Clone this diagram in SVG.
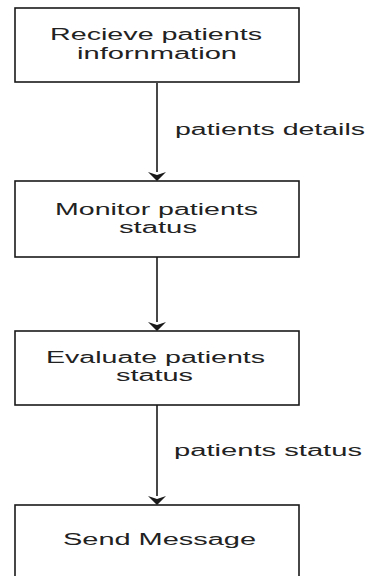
<svg xmlns="http://www.w3.org/2000/svg" width="369" height="576" viewBox="0 0 369 576">
<style>
.box{fill:#ffffff;stroke:#1a1a1a;stroke-width:1.6}
.t{font-family:"Liberation Sans",Arial,sans-serif;font-size:16px;fill:#222222}
.edge{stroke:#1a1a1a;stroke-width:1.6;fill:none}
.head{fill:#1a1a1a}
</style>
<rect width="369" height="576" fill="#ffffff"/>
<g id="connectors">
<line class="edge" x1="157" y1="83" x2="157" y2="172"/>
<path class="head" d="M148,172 L157,181 L166,172 L157,175 Z"/>
<line class="edge" x1="157" y1="257" x2="157" y2="322"/>
<path class="head" d="M148,322 L157,331 L166,322 L157,325 Z"/>
<line class="edge" x1="157" y1="405" x2="157" y2="496"/>
<path class="head" d="M148,496 L157,505 L166,496 L157,499 Z"/>
<text class="t" x="175" y="135" textLength="190" lengthAdjust="spacingAndGlyphs">patients details</text>
<text class="t" x="174" y="456" textLength="188" lengthAdjust="spacingAndGlyphs">patients status</text>
</g>
<g id="n1">
<rect class="box" x="15" y="8" width="284" height="74"/>
<text class="t" x="50" y="40" textLength="212" lengthAdjust="spacingAndGlyphs">Recieve patients</text>
<text class="t" x="77" y="59" textLength="160" lengthAdjust="spacingAndGlyphs">infornmation</text>
</g>
<g id="n2">
<rect class="box" x="15" y="181" width="284" height="76"/>
<text class="t" x="55" y="215" textLength="203" lengthAdjust="spacingAndGlyphs">Monitor patients</text>
<text class="t" x="119" y="233" textLength="78" lengthAdjust="spacingAndGlyphs">status</text>
</g>
<g id="n3">
<rect class="box" x="15" y="331" width="284" height="74"/>
<text class="t" x="46" y="363" textLength="219" lengthAdjust="spacingAndGlyphs">Evaluate patients</text>
<text class="t" x="116" y="381" textLength="77" lengthAdjust="spacingAndGlyphs">status</text>
</g>
<g id="n4">
<rect class="box" x="15" y="505" width="284" height="80"/>
<text class="t" x="63" y="545" textLength="193" lengthAdjust="spacingAndGlyphs">Send Message</text>
</g>
</svg>
